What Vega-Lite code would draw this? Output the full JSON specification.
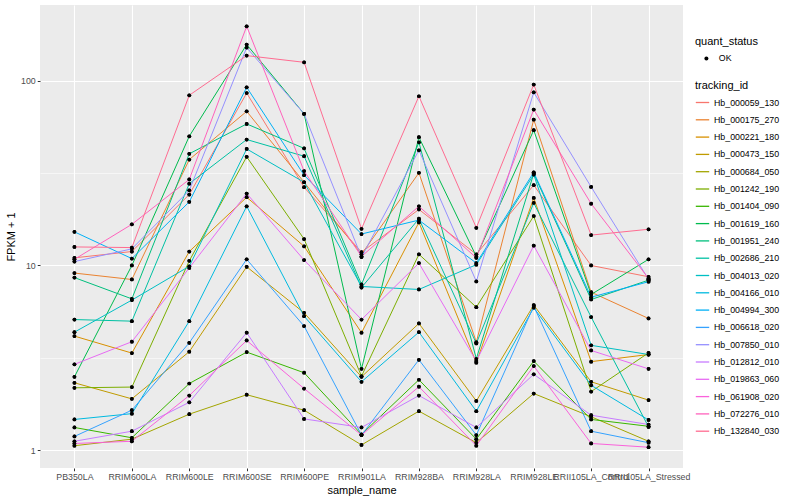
{
  "$schema": "https://vega.github.io/schema/vega-lite/v6.json",
  "width": 643,
  "height": 463,
  "autosize": {"type": "none"},
  "padding": {"left": 40, "top": 5, "right": 117, "bottom": 32},
  "background": "white",
  "datasets": {
    "fpkm": [
      {"tracking_id": "Hb_000059_130", "sample_name": "PB350LA", "fpkm": 11.0, "quant_status": "OK"},
      {"tracking_id": "Hb_000059_130", "sample_name": "RRIM600LA", "fpkm": 11.9, "quant_status": "OK"},
      {"tracking_id": "Hb_000059_130", "sample_name": "RRIM600LE", "fpkm": 24.2, "quant_status": "OK"},
      {"tracking_id": "Hb_000059_130", "sample_name": "RRIM600SE", "fpkm": 85.6, "quant_status": "OK"},
      {"tracking_id": "Hb_000059_130", "sample_name": "RRIM600PE", "fpkm": 26.5, "quant_status": "OK"},
      {"tracking_id": "Hb_000059_130", "sample_name": "RRIM901LA", "fpkm": 11.8, "quant_status": "OK"},
      {"tracking_id": "Hb_000059_130", "sample_name": "RRIM928BA", "fpkm": 20.1, "quant_status": "OK"},
      {"tracking_id": "Hb_000059_130", "sample_name": "RRIM928LA", "fpkm": 11.5, "quant_status": "OK"},
      {"tracking_id": "Hb_000059_130", "sample_name": "RRIM928LE", "fpkm": 27.2, "quant_status": "OK"},
      {"tracking_id": "Hb_000059_130", "sample_name": "RRII105LA_Control", "fpkm": 10.0, "quant_status": "OK"},
      {"tracking_id": "Hb_000059_130", "sample_name": "RRII105LA_Stressed", "fpkm": 8.69, "quant_status": "OK"},

      {"tracking_id": "Hb_000175_270", "sample_name": "PB350LA", "fpkm": 9.1, "quant_status": "OK"},
      {"tracking_id": "Hb_000175_270", "sample_name": "RRIM600LA", "fpkm": 8.4, "quant_status": "OK"},
      {"tracking_id": "Hb_000175_270", "sample_name": "RRIM600LE", "fpkm": 37.4, "quant_status": "OK"},
      {"tracking_id": "Hb_000175_270", "sample_name": "RRIM600SE", "fpkm": 68.2, "quant_status": "OK"},
      {"tracking_id": "Hb_000175_270", "sample_name": "RRIM600PE", "fpkm": 28.2, "quant_status": "OK"},
      {"tracking_id": "Hb_000175_270", "sample_name": "RRIM901LA", "fpkm": 11.5, "quant_status": "OK"},
      {"tracking_id": "Hb_000175_270", "sample_name": "RRIM928BA", "fpkm": 31.7, "quant_status": "OK"},
      {"tracking_id": "Hb_000175_270", "sample_name": "RRIM928LA", "fpkm": 3.85, "quant_status": "OK"},
      {"tracking_id": "Hb_000175_270", "sample_name": "RRIM928LE", "fpkm": 61.5, "quant_status": "OK"},
      {"tracking_id": "Hb_000175_270", "sample_name": "RRII105LA_Control", "fpkm": 7.17, "quant_status": "OK"},
      {"tracking_id": "Hb_000175_270", "sample_name": "RRII105LA_Stressed", "fpkm": 5.17, "quant_status": "OK"},

      {"tracking_id": "Hb_000221_180", "sample_name": "PB350LA", "fpkm": 4.15, "quant_status": "OK"},
      {"tracking_id": "Hb_000221_180", "sample_name": "RRIM600LA", "fpkm": 3.36, "quant_status": "OK"},
      {"tracking_id": "Hb_000221_180", "sample_name": "RRIM600LE", "fpkm": 11.9, "quant_status": "OK"},
      {"tracking_id": "Hb_000221_180", "sample_name": "RRIM600SE", "fpkm": 23.4, "quant_status": "OK"},
      {"tracking_id": "Hb_000221_180", "sample_name": "RRIM600PE", "fpkm": 12.7, "quant_status": "OK"},
      {"tracking_id": "Hb_000221_180", "sample_name": "RRIM901LA", "fpkm": 4.33, "quant_status": "OK"},
      {"tracking_id": "Hb_000221_180", "sample_name": "RRIM928BA", "fpkm": 17.1, "quant_status": "OK"},
      {"tracking_id": "Hb_000221_180", "sample_name": "RRIM928LA", "fpkm": 2.98, "quant_status": "OK"},
      {"tracking_id": "Hb_000221_180", "sample_name": "RRIM928LE", "fpkm": 23.2, "quant_status": "OK"},
      {"tracking_id": "Hb_000221_180", "sample_name": "RRII105LA_Control", "fpkm": 3.02, "quant_status": "OK"},
      {"tracking_id": "Hb_000221_180", "sample_name": "RRII105LA_Stressed", "fpkm": 3.30, "quant_status": "OK"},

      {"tracking_id": "Hb_000473_150", "sample_name": "PB350LA", "fpkm": 2.32, "quant_status": "OK"},
      {"tracking_id": "Hb_000473_150", "sample_name": "RRIM600LA", "fpkm": 1.90, "quant_status": "OK"},
      {"tracking_id": "Hb_000473_150", "sample_name": "RRIM600LE", "fpkm": 3.42, "quant_status": "OK"},
      {"tracking_id": "Hb_000473_150", "sample_name": "RRIM600SE", "fpkm": 9.84, "quant_status": "OK"},
      {"tracking_id": "Hb_000473_150", "sample_name": "RRIM600PE", "fpkm": 5.55, "quant_status": "OK"},
      {"tracking_id": "Hb_000473_150", "sample_name": "RRIM901LA", "fpkm": 2.50, "quant_status": "OK"},
      {"tracking_id": "Hb_000473_150", "sample_name": "RRIM928BA", "fpkm": 4.86, "quant_status": "OK"},
      {"tracking_id": "Hb_000473_150", "sample_name": "RRIM928LA", "fpkm": 1.85, "quant_status": "OK"},
      {"tracking_id": "Hb_000473_150", "sample_name": "RRIM928LE", "fpkm": 6.11, "quant_status": "OK"},
      {"tracking_id": "Hb_000473_150", "sample_name": "RRII105LA_Control", "fpkm": 2.35, "quant_status": "OK"},
      {"tracking_id": "Hb_000473_150", "sample_name": "RRII105LA_Stressed", "fpkm": 1.87, "quant_status": "OK"},

      {"tracking_id": "Hb_000684_050", "sample_name": "PB350LA", "fpkm": 1.06, "quant_status": "OK"},
      {"tracking_id": "Hb_000684_050", "sample_name": "RRIM600LA", "fpkm": 1.15, "quant_status": "OK"},
      {"tracking_id": "Hb_000684_050", "sample_name": "RRIM600LE", "fpkm": 1.57, "quant_status": "OK"},
      {"tracking_id": "Hb_000684_050", "sample_name": "RRIM600SE", "fpkm": 2.00, "quant_status": "OK"},
      {"tracking_id": "Hb_000684_050", "sample_name": "RRIM600PE", "fpkm": 1.65, "quant_status": "OK"},
      {"tracking_id": "Hb_000684_050", "sample_name": "RRIM901LA", "fpkm": 1.07, "quant_status": "OK"},
      {"tracking_id": "Hb_000684_050", "sample_name": "RRIM928BA", "fpkm": 1.63, "quant_status": "OK"},
      {"tracking_id": "Hb_000684_050", "sample_name": "RRIM928LA", "fpkm": 1.10, "quant_status": "OK"},
      {"tracking_id": "Hb_000684_050", "sample_name": "RRIM928LE", "fpkm": 2.03, "quant_status": "OK"},
      {"tracking_id": "Hb_000684_050", "sample_name": "RRII105LA_Control", "fpkm": 1.52, "quant_status": "OK"},
      {"tracking_id": "Hb_000684_050", "sample_name": "RRII105LA_Stressed", "fpkm": 1.12, "quant_status": "OK"},

      {"tracking_id": "Hb_001242_190", "sample_name": "PB350LA", "fpkm": 2.18, "quant_status": "OK"},
      {"tracking_id": "Hb_001242_190", "sample_name": "RRIM600LA", "fpkm": 2.20, "quant_status": "OK"},
      {"tracking_id": "Hb_001242_190", "sample_name": "RRIM600LE", "fpkm": 10.6, "quant_status": "OK"},
      {"tracking_id": "Hb_001242_190", "sample_name": "RRIM600SE", "fpkm": 38.7, "quant_status": "OK"},
      {"tracking_id": "Hb_001242_190", "sample_name": "RRIM600PE", "fpkm": 13.9, "quant_status": "OK"},
      {"tracking_id": "Hb_001242_190", "sample_name": "RRIM901LA", "fpkm": 2.52, "quant_status": "OK"},
      {"tracking_id": "Hb_001242_190", "sample_name": "RRIM928BA", "fpkm": 11.5, "quant_status": "OK"},
      {"tracking_id": "Hb_001242_190", "sample_name": "RRIM928LA", "fpkm": 5.95, "quant_status": "OK"},
      {"tracking_id": "Hb_001242_190", "sample_name": "RRIM928LE", "fpkm": 18.5, "quant_status": "OK"},
      {"tracking_id": "Hb_001242_190", "sample_name": "RRII105LA_Control", "fpkm": 2.08, "quant_status": "OK"},
      {"tracking_id": "Hb_001242_190", "sample_name": "RRII105LA_Stressed", "fpkm": 3.37, "quant_status": "OK"},

      {"tracking_id": "Hb_001404_090", "sample_name": "PB350LA", "fpkm": 1.33, "quant_status": "OK"},
      {"tracking_id": "Hb_001404_090", "sample_name": "RRIM600LA", "fpkm": 1.17, "quant_status": "OK"},
      {"tracking_id": "Hb_001404_090", "sample_name": "RRIM600LE", "fpkm": 2.30, "quant_status": "OK"},
      {"tracking_id": "Hb_001404_090", "sample_name": "RRIM600SE", "fpkm": 3.40, "quant_status": "OK"},
      {"tracking_id": "Hb_001404_090", "sample_name": "RRIM600PE", "fpkm": 2.63, "quant_status": "OK"},
      {"tracking_id": "Hb_001404_090", "sample_name": "RRIM901LA", "fpkm": 1.22, "quant_status": "OK"},
      {"tracking_id": "Hb_001404_090", "sample_name": "RRIM928BA", "fpkm": 2.41, "quant_status": "OK"},
      {"tracking_id": "Hb_001404_090", "sample_name": "RRIM928LA", "fpkm": 1.15, "quant_status": "OK"},
      {"tracking_id": "Hb_001404_090", "sample_name": "RRIM928LE", "fpkm": 3.04, "quant_status": "OK"},
      {"tracking_id": "Hb_001404_090", "sample_name": "RRII105LA_Control", "fpkm": 1.47, "quant_status": "OK"},
      {"tracking_id": "Hb_001404_090", "sample_name": "RRII105LA_Stressed", "fpkm": 1.35, "quant_status": "OK"},

      {"tracking_id": "Hb_001619_160", "sample_name": "PB350LA", "fpkm": 2.50, "quant_status": "OK"},
      {"tracking_id": "Hb_001619_160", "sample_name": "RRIM600LA", "fpkm": 10.0, "quant_status": "OK"},
      {"tracking_id": "Hb_001619_160", "sample_name": "RRIM600LE", "fpkm": 50.0, "quant_status": "OK"},
      {"tracking_id": "Hb_001619_160", "sample_name": "RRIM600SE", "fpkm": 156.6, "quant_status": "OK"},
      {"tracking_id": "Hb_001619_160", "sample_name": "RRIM600PE", "fpkm": 66.1, "quant_status": "OK"},
      {"tracking_id": "Hb_001619_160", "sample_name": "RRIM901LA", "fpkm": 2.76, "quant_status": "OK"},
      {"tracking_id": "Hb_001619_160", "sample_name": "RRIM928BA", "fpkm": 49.4, "quant_status": "OK"},
      {"tracking_id": "Hb_001619_160", "sample_name": "RRIM928LA", "fpkm": 11.2, "quant_status": "OK"},
      {"tracking_id": "Hb_001619_160", "sample_name": "RRIM928LE", "fpkm": 53.9, "quant_status": "OK"},
      {"tracking_id": "Hb_001619_160", "sample_name": "RRII105LA_Control", "fpkm": 6.97, "quant_status": "OK"},
      {"tracking_id": "Hb_001619_160", "sample_name": "RRII105LA_Stressed", "fpkm": 10.8, "quant_status": "OK"},

      {"tracking_id": "Hb_001951_240", "sample_name": "PB350LA", "fpkm": 8.6, "quant_status": "OK"},
      {"tracking_id": "Hb_001951_240", "sample_name": "RRIM600LA", "fpkm": 6.6, "quant_status": "OK"},
      {"tracking_id": "Hb_001951_240", "sample_name": "RRIM600LE", "fpkm": 40.2, "quant_status": "OK"},
      {"tracking_id": "Hb_001951_240", "sample_name": "RRIM600SE", "fpkm": 58.3, "quant_status": "OK"},
      {"tracking_id": "Hb_001951_240", "sample_name": "RRIM600PE", "fpkm": 43.0, "quant_status": "OK"},
      {"tracking_id": "Hb_001951_240", "sample_name": "RRIM901LA", "fpkm": 7.9, "quant_status": "OK"},
      {"tracking_id": "Hb_001951_240", "sample_name": "RRIM928BA", "fpkm": 46.4, "quant_status": "OK"},
      {"tracking_id": "Hb_001951_240", "sample_name": "RRIM928LA", "fpkm": 3.13, "quant_status": "OK"},
      {"tracking_id": "Hb_001951_240", "sample_name": "RRIM928LE", "fpkm": 31.4, "quant_status": "OK"},
      {"tracking_id": "Hb_001951_240", "sample_name": "RRII105LA_Control", "fpkm": 6.55, "quant_status": "OK"},
      {"tracking_id": "Hb_001951_240", "sample_name": "RRII105LA_Stressed", "fpkm": 8.33, "quant_status": "OK"},

      {"tracking_id": "Hb_002686_210", "sample_name": "PB350LA", "fpkm": 5.1, "quant_status": "OK"},
      {"tracking_id": "Hb_002686_210", "sample_name": "RRIM600LA", "fpkm": 5.0, "quant_status": "OK"},
      {"tracking_id": "Hb_002686_210", "sample_name": "RRIM600LE", "fpkm": 27.7, "quant_status": "OK"},
      {"tracking_id": "Hb_002686_210", "sample_name": "RRIM600SE", "fpkm": 48.0, "quant_status": "OK"},
      {"tracking_id": "Hb_002686_210", "sample_name": "RRIM600PE", "fpkm": 39.0, "quant_status": "OK"},
      {"tracking_id": "Hb_002686_210", "sample_name": "RRIM901LA", "fpkm": 7.6, "quant_status": "OK"},
      {"tracking_id": "Hb_002686_210", "sample_name": "RRIM928BA", "fpkm": 17.9, "quant_status": "OK"},
      {"tracking_id": "Hb_002686_210", "sample_name": "RRIM928LA", "fpkm": 3.79, "quant_status": "OK"},
      {"tracking_id": "Hb_002686_210", "sample_name": "RRIM928LE", "fpkm": 21.8, "quant_status": "OK"},
      {"tracking_id": "Hb_002686_210", "sample_name": "RRII105LA_Control", "fpkm": 5.26, "quant_status": "OK"},
      {"tracking_id": "Hb_002686_210", "sample_name": "RRII105LA_Stressed", "fpkm": 1.34, "quant_status": "OK"},

      {"tracking_id": "Hb_004013_020", "sample_name": "PB350LA", "fpkm": 4.36, "quant_status": "OK"},
      {"tracking_id": "Hb_004013_020", "sample_name": "RRIM600LA", "fpkm": 6.5, "quant_status": "OK"},
      {"tracking_id": "Hb_004013_020", "sample_name": "RRIM600LE", "fpkm": 9.9, "quant_status": "OK"},
      {"tracking_id": "Hb_004013_020", "sample_name": "RRIM600SE", "fpkm": 42.7, "quant_status": "OK"},
      {"tracking_id": "Hb_004013_020", "sample_name": "RRIM600PE", "fpkm": 28.2, "quant_status": "OK"},
      {"tracking_id": "Hb_004013_020", "sample_name": "RRIM901LA", "fpkm": 7.7, "quant_status": "OK"},
      {"tracking_id": "Hb_004013_020", "sample_name": "RRIM928BA", "fpkm": 7.42, "quant_status": "OK"},
      {"tracking_id": "Hb_004013_020", "sample_name": "RRIM928LA", "fpkm": 10.1, "quant_status": "OK"},
      {"tracking_id": "Hb_004013_020", "sample_name": "RRIM928LE", "fpkm": 31.0, "quant_status": "OK"},
      {"tracking_id": "Hb_004013_020", "sample_name": "RRII105LA_Control", "fpkm": 3.70, "quant_status": "OK"},
      {"tracking_id": "Hb_004013_020", "sample_name": "RRII105LA_Stressed", "fpkm": 3.30, "quant_status": "OK"},

      {"tracking_id": "Hb_004166_010", "sample_name": "PB350LA", "fpkm": 1.47, "quant_status": "OK"},
      {"tracking_id": "Hb_004166_010", "sample_name": "RRIM600LA", "fpkm": 1.58, "quant_status": "OK"},
      {"tracking_id": "Hb_004166_010", "sample_name": "RRIM600LE", "fpkm": 5.0, "quant_status": "OK"},
      {"tracking_id": "Hb_004166_010", "sample_name": "RRIM600SE", "fpkm": 20.9, "quant_status": "OK"},
      {"tracking_id": "Hb_004166_010", "sample_name": "RRIM600PE", "fpkm": 5.32, "quant_status": "OK"},
      {"tracking_id": "Hb_004166_010", "sample_name": "RRIM901LA", "fpkm": 2.35, "quant_status": "OK"},
      {"tracking_id": "Hb_004166_010", "sample_name": "RRIM928BA", "fpkm": 4.36, "quant_status": "OK"},
      {"tracking_id": "Hb_004166_010", "sample_name": "RRIM928LA", "fpkm": 1.63, "quant_status": "OK"},
      {"tracking_id": "Hb_004166_010", "sample_name": "RRIM928LE", "fpkm": 5.91, "quant_status": "OK"},
      {"tracking_id": "Hb_004166_010", "sample_name": "RRII105LA_Control", "fpkm": 2.25, "quant_status": "OK"},
      {"tracking_id": "Hb_004166_010", "sample_name": "RRII105LA_Stressed", "fpkm": 1.46, "quant_status": "OK"},

      {"tracking_id": "Hb_004994_300", "sample_name": "PB350LA", "fpkm": 15.2, "quant_status": "OK"},
      {"tracking_id": "Hb_004994_300", "sample_name": "RRIM600LA", "fpkm": 10.9, "quant_status": "OK"},
      {"tracking_id": "Hb_004994_300", "sample_name": "RRIM600LE", "fpkm": 22.1, "quant_status": "OK"},
      {"tracking_id": "Hb_004994_300", "sample_name": "RRIM600SE", "fpkm": 92.0, "quant_status": "OK"},
      {"tracking_id": "Hb_004994_300", "sample_name": "RRIM600PE", "fpkm": 30.8, "quant_status": "OK"},
      {"tracking_id": "Hb_004994_300", "sample_name": "RRIM901LA", "fpkm": 14.8, "quant_status": "OK"},
      {"tracking_id": "Hb_004994_300", "sample_name": "RRIM928BA", "fpkm": 17.6, "quant_status": "OK"},
      {"tracking_id": "Hb_004994_300", "sample_name": "RRIM928LA", "fpkm": 10.3, "quant_status": "OK"},
      {"tracking_id": "Hb_004994_300", "sample_name": "RRIM928LE", "fpkm": 31.9, "quant_status": "OK"},
      {"tracking_id": "Hb_004994_300", "sample_name": "RRII105LA_Control", "fpkm": 6.74, "quant_status": "OK"},
      {"tracking_id": "Hb_004994_300", "sample_name": "RRII105LA_Stressed", "fpkm": 8.17, "quant_status": "OK"},

      {"tracking_id": "Hb_006618_020", "sample_name": "PB350LA", "fpkm": 1.19, "quant_status": "OK"},
      {"tracking_id": "Hb_006618_020", "sample_name": "RRIM600LA", "fpkm": 1.65, "quant_status": "OK"},
      {"tracking_id": "Hb_006618_020", "sample_name": "RRIM600LE", "fpkm": 3.82, "quant_status": "OK"},
      {"tracking_id": "Hb_006618_020", "sample_name": "RRIM600SE", "fpkm": 10.8, "quant_status": "OK"},
      {"tracking_id": "Hb_006618_020", "sample_name": "RRIM600PE", "fpkm": 4.70, "quant_status": "OK"},
      {"tracking_id": "Hb_006618_020", "sample_name": "RRIM901LA", "fpkm": 1.21, "quant_status": "OK"},
      {"tracking_id": "Hb_006618_020", "sample_name": "RRIM928BA", "fpkm": 3.09, "quant_status": "OK"},
      {"tracking_id": "Hb_006618_020", "sample_name": "RRIM928LA", "fpkm": 1.21, "quant_status": "OK"},
      {"tracking_id": "Hb_006618_020", "sample_name": "RRIM928LE", "fpkm": 6.03, "quant_status": "OK"},
      {"tracking_id": "Hb_006618_020", "sample_name": "RRII105LA_Control", "fpkm": 1.27, "quant_status": "OK"},
      {"tracking_id": "Hb_006618_020", "sample_name": "RRII105LA_Stressed", "fpkm": 1.10, "quant_status": "OK"},

      {"tracking_id": "Hb_007850_010", "sample_name": "PB350LA", "fpkm": 10.5, "quant_status": "OK"},
      {"tracking_id": "Hb_007850_010", "sample_name": "RRIM600LA", "fpkm": 12.3, "quant_status": "OK"},
      {"tracking_id": "Hb_007850_010", "sample_name": "RRIM600LE", "fpkm": 25.5, "quant_status": "OK"},
      {"tracking_id": "Hb_007850_010", "sample_name": "RRIM600SE", "fpkm": 150.8, "quant_status": "OK"},
      {"tracking_id": "Hb_007850_010", "sample_name": "RRIM600PE", "fpkm": 66.1, "quant_status": "OK"},
      {"tracking_id": "Hb_007850_010", "sample_name": "RRIM901LA", "fpkm": 11.1, "quant_status": "OK"},
      {"tracking_id": "Hb_007850_010", "sample_name": "RRIM928BA", "fpkm": 42.0, "quant_status": "OK"},
      {"tracking_id": "Hb_007850_010", "sample_name": "RRIM928LA", "fpkm": 8.2, "quant_status": "OK"},
      {"tracking_id": "Hb_007850_010", "sample_name": "RRIM928LE", "fpkm": 86.4, "quant_status": "OK"},
      {"tracking_id": "Hb_007850_010", "sample_name": "RRII105LA_Control", "fpkm": 26.6, "quant_status": "OK"},
      {"tracking_id": "Hb_007850_010", "sample_name": "RRII105LA_Stressed", "fpkm": 8.42, "quant_status": "OK"},

      {"tracking_id": "Hb_012812_010", "sample_name": "PB350LA", "fpkm": 1.12, "quant_status": "OK"},
      {"tracking_id": "Hb_012812_010", "sample_name": "RRIM600LA", "fpkm": 1.27, "quant_status": "OK"},
      {"tracking_id": "Hb_012812_010", "sample_name": "RRIM600LE", "fpkm": 1.82, "quant_status": "OK"},
      {"tracking_id": "Hb_012812_010", "sample_name": "RRIM600SE", "fpkm": 4.33, "quant_status": "OK"},
      {"tracking_id": "Hb_012812_010", "sample_name": "RRIM600PE", "fpkm": 1.48, "quant_status": "OK"},
      {"tracking_id": "Hb_012812_010", "sample_name": "RRIM901LA", "fpkm": 1.33, "quant_status": "OK"},
      {"tracking_id": "Hb_012812_010", "sample_name": "RRIM928BA", "fpkm": 1.98, "quant_status": "OK"},
      {"tracking_id": "Hb_012812_010", "sample_name": "RRIM928LA", "fpkm": 1.33, "quant_status": "OK"},
      {"tracking_id": "Hb_012812_010", "sample_name": "RRIM928LE", "fpkm": 2.58, "quant_status": "OK"},
      {"tracking_id": "Hb_012812_010", "sample_name": "RRII105LA_Control", "fpkm": 1.55, "quant_status": "OK"},
      {"tracking_id": "Hb_012812_010", "sample_name": "RRII105LA_Stressed", "fpkm": 1.38, "quant_status": "OK"},

      {"tracking_id": "Hb_019863_060", "sample_name": "PB350LA", "fpkm": 2.92, "quant_status": "OK"},
      {"tracking_id": "Hb_019863_060", "sample_name": "RRIM600LA", "fpkm": 3.87, "quant_status": "OK"},
      {"tracking_id": "Hb_019863_060", "sample_name": "RRIM600LE", "fpkm": 9.7, "quant_status": "OK"},
      {"tracking_id": "Hb_019863_060", "sample_name": "RRIM600SE", "fpkm": 24.5, "quant_status": "OK"},
      {"tracking_id": "Hb_019863_060", "sample_name": "RRIM600PE", "fpkm": 10.7, "quant_status": "OK"},
      {"tracking_id": "Hb_019863_060", "sample_name": "RRIM901LA", "fpkm": 5.1, "quant_status": "OK"},
      {"tracking_id": "Hb_019863_060", "sample_name": "RRIM928BA", "fpkm": 10.3, "quant_status": "OK"},
      {"tracking_id": "Hb_019863_060", "sample_name": "RRIM928LA", "fpkm": 3.04, "quant_status": "OK"},
      {"tracking_id": "Hb_019863_060", "sample_name": "RRIM928LE", "fpkm": 12.8, "quant_status": "OK"},
      {"tracking_id": "Hb_019863_060", "sample_name": "RRII105LA_Control", "fpkm": 3.47, "quant_status": "OK"},
      {"tracking_id": "Hb_019863_060", "sample_name": "RRII105LA_Stressed", "fpkm": 2.76, "quant_status": "OK"},

      {"tracking_id": "Hb_061908_020", "sample_name": "PB350LA", "fpkm": 1.09, "quant_status": "OK"},
      {"tracking_id": "Hb_061908_020", "sample_name": "RRIM600LA", "fpkm": 1.12, "quant_status": "OK"},
      {"tracking_id": "Hb_061908_020", "sample_name": "RRIM600LE", "fpkm": 1.98, "quant_status": "OK"},
      {"tracking_id": "Hb_061908_020", "sample_name": "RRIM600SE", "fpkm": 3.93, "quant_status": "OK"},
      {"tracking_id": "Hb_061908_020", "sample_name": "RRIM600PE", "fpkm": 2.16, "quant_status": "OK"},
      {"tracking_id": "Hb_061908_020", "sample_name": "RRIM901LA", "fpkm": 1.21, "quant_status": "OK"},
      {"tracking_id": "Hb_061908_020", "sample_name": "RRIM928BA", "fpkm": 2.21, "quant_status": "OK"},
      {"tracking_id": "Hb_061908_020", "sample_name": "RRIM928LA", "fpkm": 1.06, "quant_status": "OK"},
      {"tracking_id": "Hb_061908_020", "sample_name": "RRIM928LE", "fpkm": 2.86, "quant_status": "OK"},
      {"tracking_id": "Hb_061908_020", "sample_name": "RRII105LA_Control", "fpkm": 1.09, "quant_status": "OK"},
      {"tracking_id": "Hb_061908_020", "sample_name": "RRII105LA_Stressed", "fpkm": 1.04, "quant_status": "OK"},

      {"tracking_id": "Hb_072276_010", "sample_name": "PB350LA", "fpkm": 10.8, "quant_status": "OK"},
      {"tracking_id": "Hb_072276_010", "sample_name": "RRIM600LA", "fpkm": 16.7, "quant_status": "OK"},
      {"tracking_id": "Hb_072276_010", "sample_name": "RRIM600LE", "fpkm": 29.2, "quant_status": "OK"},
      {"tracking_id": "Hb_072276_010", "sample_name": "RRIM600SE", "fpkm": 196.7, "quant_status": "OK"},
      {"tracking_id": "Hb_072276_010", "sample_name": "RRIM600PE", "fpkm": 32.4, "quant_status": "OK"},
      {"tracking_id": "Hb_072276_010", "sample_name": "RRIM901LA", "fpkm": 11.2, "quant_status": "OK"},
      {"tracking_id": "Hb_072276_010", "sample_name": "RRIM928BA", "fpkm": 20.9, "quant_status": "OK"},
      {"tracking_id": "Hb_072276_010", "sample_name": "RRIM928LA", "fpkm": 11.0, "quant_status": "OK"},
      {"tracking_id": "Hb_072276_010", "sample_name": "RRIM928LE", "fpkm": 69.7, "quant_status": "OK"},
      {"tracking_id": "Hb_072276_010", "sample_name": "RRII105LA_Control", "fpkm": 21.6, "quant_status": "OK"},
      {"tracking_id": "Hb_072276_010", "sample_name": "RRII105LA_Stressed", "fpkm": 8.51, "quant_status": "OK"},

      {"tracking_id": "Hb_132840_030", "sample_name": "PB350LA", "fpkm": 12.6, "quant_status": "OK"},
      {"tracking_id": "Hb_132840_030", "sample_name": "RRIM600LA", "fpkm": 12.5, "quant_status": "OK"},
      {"tracking_id": "Hb_132840_030", "sample_name": "RRIM600LE", "fpkm": 83.3, "quant_status": "OK"},
      {"tracking_id": "Hb_132840_030", "sample_name": "RRIM600SE", "fpkm": 136.5, "quant_status": "OK"},
      {"tracking_id": "Hb_132840_030", "sample_name": "RRIM600PE", "fpkm": 125.6, "quant_status": "OK"},
      {"tracking_id": "Hb_132840_030", "sample_name": "RRIM901LA", "fpkm": 15.8, "quant_status": "OK"},
      {"tracking_id": "Hb_132840_030", "sample_name": "RRIM928BA", "fpkm": 82.3, "quant_status": "OK"},
      {"tracking_id": "Hb_132840_030", "sample_name": "RRIM928LA", "fpkm": 16.0, "quant_status": "OK"},
      {"tracking_id": "Hb_132840_030", "sample_name": "RRIM928LE", "fpkm": 95.2, "quant_status": "OK"},
      {"tracking_id": "Hb_132840_030", "sample_name": "RRII105LA_Control", "fpkm": 14.6, "quant_status": "OK"},
      {"tracking_id": "Hb_132840_030", "sample_name": "RRII105LA_Stressed", "fpkm": 15.7, "quant_status": "OK"}
    ]
  },
  "data": {"name": "fpkm"},
  "encoding": {
    "x": {
      "field": "sample_name",
      "type": "nominal",
      "sort": null,
      "scale": {
        "type": "point",
        "padding": 0.6,
        "domain": ["PB350LA", "RRIM600LA", "RRIM600LE", "RRIM600SE", "RRIM600PE", "RRIM901LA", "RRIM928BA", "RRIM928LA", "RRIM928LE", "RRII105LA_Control", "RRII105LA_Stressed"]
      },
      "axis": {
        "title": "sample_name",
        "labelAngle": 0,
        "labelOverlap": false,
        "labelBound": false,
        "labelPadding": 2,
        "titlePadding": 3,
        "grid": true
      }
    },
    "y": {
      "field": "fpkm",
      "type": "quantitative",
      "scale": {"type": "log", "domain": [0.803, 256.4], "nice": false, "zero": false},
      "axis": {
        "title": "FPKM + 1",
        "values": [1, 3.1623, 10, 31.623, 100],
        "format": "d",
        "labelExpr": "datum.value == 1 || datum.value == 10 || datum.value == 100 ? datum.label : ''",
        "tickOpacity": {"condition": {"test": "datum.value == 1 || datum.value == 10 || datum.value == 100", "value": 1}, "value": 0},
        "gridWidth": {"condition": {"test": "datum.value == 1 || datum.value == 10 || datum.value == 100", "value": 1.1}, "value": 0.55},
        "labelPadding": 2,
        "titlePadding": 4,
        "grid": true
      }
    }
  },
  "layer": [
    {
      "mark": {"type": "point", "filled": true, "size": 14, "opacity": 1},
      "encoding": {
        "fill": {
          "field": "quant_status",
          "type": "nominal",
          "scale": {"range": ["#000000"]},
          "legend": {
            "title": "quant_status",
            "symbolType": "circle",
            "symbolSize": 16,
            "symbolOffset": 7,
            "labelOffset": 8
          }
        }
      }
    },
    {
      "mark": {"type": "line", "strokeWidth": 1, "interpolate": "linear"},
      "encoding": {
        "order": {"value": null},
        "stroke": {
          "field": "tracking_id",
          "type": "nominal",
          "scale": {
            "range": ["#F8766D", "#EA8331", "#D89000", "#C09B00", "#A3A500", "#7CAE00", "#39B600", "#00BB4E", "#00BF7D", "#00C1A3", "#00BFC4", "#00BAE0", "#00B0F6", "#35A2FF", "#9590FF", "#C77CFF", "#E76BF3", "#FA62DB", "#FF62BC", "#FF6C91"]
          },
          "legend": {
            "title": "tracking_id",
            "titlePadding": 4,
            "symbolType": "stroke",
            "symbolStrokeWidth": 1.3,
            "symbolSize": 180,
            "rowPadding": 4.3,
            "labelOffset": 4
          }
        }
      }
    },
    {
      "mark": {"type": "point", "filled": true, "size": 14, "opacity": 1},
      "encoding": {
        "fill": {
          "field": "quant_status",
          "type": "nominal",
          "legend": null
        }
      }
    }
  ],
  "config": {
    "view": {"fill": "#EBEBEB", "stroke": null},
    "font": "Liberation Sans",
    "axis": {
      "domain": false,
      "gridColor": "#FFFFFF",
      "gridWidth": 1.1,
      "tickColor": "#333333",
      "tickSize": 2.75,
      "tickWidth": 1,
      "labelColor": "#4D4D4D",
      "labelFont": "Liberation Sans",
      "labelFontSize": 8.8,
      "titleFont": "Liberation Sans",
      "titleFontSize": 11,
      "titleFontWeight": "normal",
      "titleColor": "#000000"
    },
    "legend": {
      "offset": 12,
      "padding": 0,
      "titleFont": "Liberation Sans",
      "titleFontSize": 11,
      "titleFontWeight": "normal",
      "titleColor": "#000000",
      "titlePadding": 7,
      "labelFont": "Liberation Sans",
      "labelFontSize": 8.8,
      "labelColor": "#000000",
      "layout": {"right": {"anchor": "middle", "direction": "vertical", "margin": 16}}
    }
  }
}
